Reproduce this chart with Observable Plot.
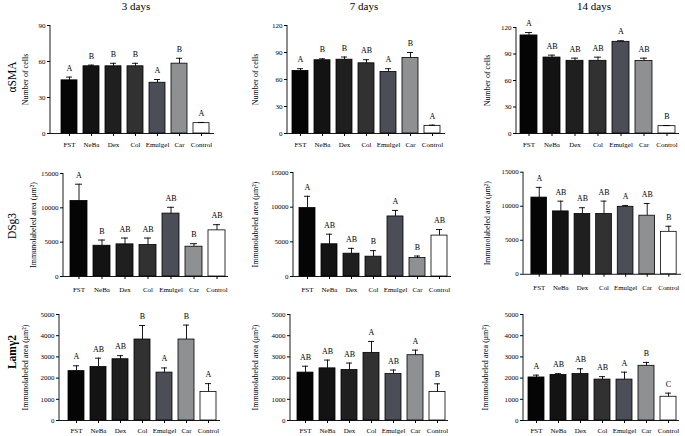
<!DOCTYPE html>
<html>
<head>
<meta charset="utf-8">
<script src="https://cdn.jsdelivr.net/npm/d3@7"></script>
<script src="https://cdn.jsdelivr.net/npm/@observablehq/plot@0.6"></script>
<style>
  html, body { margin: 0; padding: 0; background: #fff; }
  #wrap { position: relative; width: 685px; height: 436px; background: #fff; overflow: hidden; font-family: "Liberation Serif", "DejaVu Serif", serif; color: #000; }
  .lbl { position: absolute; white-space: nowrap; line-height: 1; }
  .rot { transform: translate(-50%, -50%) rotate(-90deg); }
  .pnl { position: absolute; }
  .pnl svg { display: block; }
</style>
</head>
<body>
<div id="wrap"></div>
<script>
// ---------- data ----------
const categories = ["FST", "NeBa", "Dex", "Col", "Emulgel", "Car", "Control"];
const dayTitles = ["3 days", "7 days", "14 days"];
const markerTitles = ["αSMA", "DSg3", "Lamγ2"];

// αSMA (number of cells)
const sma3Mean  = [44.3, 56, 56, 56, 42.3, 58.2, 8.6];
const sma3Sem   = [2.7, 1.0, 2.5, 2.5, 2.7, 4.5, 0.6];
const sma3Sig   = ["A", "B", "B", "B", "A", "B", "A"];
const sma7Mean  = [69.5, 81.4, 82, 78, 68.4, 84, 8.5];
const sma7Sem   = [2.5, 1.6, 3, 4, 3.6, 6, 0.8];
const sma7Sig   = ["A", "B", "B", "AB", "A", "B", "A"];
const sma14Mean = [111, 86, 82.3, 82.3, 103.8, 82, 8.3];
const sma14Sem  = [3.3, 2.7, 3, 4.1, 1.2, 3.3, 0.7];
const sma14Sig  = ["A", "AB", "AB", "AB", "A", "AB", "B"];

// DSg3 (immunolabeled area, µm²)
const dsg3Mean  = [11000, 4480, 4680, 4580, 9160, 4340, 6720];
const dsg3Sem   = [2440, 830, 920, 1020, 920, 440, 830];
const dsg3Sig   = ["A", "B", "AB", "AB", "AB", "B", "AB"];
const dsg7Mean  = [9870, 4650, 3290, 2860, 8660, 2660, 5900];
const dsg7Sem   = [1700, 1450, 770, 870, 870, 290, 870];
const dsg7Sig   = ["A", "AB", "AB", "B", "A", "B", "AB"];
const dsg14Mean = [11270, 9240, 8860, 8860, 9920, 8610, 6240];
const dsg14Sem  = [1500, 1500, 920, 1890, 190, 1790, 820];
const dsg14Sig  = ["A", "AB", "AB", "AB", "A", "AB", "B"];

// Lamγ2 (immunolabeled area, µm²)
const lam3Mean  = [2330, 2520, 2890, 3820, 2260, 3820, 1350];
const lam3Sem   = [250, 420, 170, 660, 220, 680, 390];
const lam3Sig   = ["A", "AB", "AB", "B", "A", "B", "A"];
const lam7Mean  = [2260, 2460, 2380, 3190, 2190, 3080, 1340];
const lam7Sem   = [300, 390, 330, 540, 190, 240, 390];
const lam7Sig   = ["AB", "AB", "AB", "A", "AB", "A", "B"];
const lam14Mean = [2030, 2150, 2190, 1930, 1930, 2580, 1120];
const lam14Sem  = [110, 60, 250, 140, 350, 160, 170];
const lam14Sig  = ["A", "AB", "AB", "AB", "A", "B", "C"];

// tick values
const smaTicks90  = [0, 30, 60, 90];
const smaTicks120 = [0, 30, 60, 90, 120];
const dsgTicks    = [0, 5000, 10000, 15000];
const lamTicks    = [0, 1000, 2000, 3000, 4000, 5000];

const cellsLabel = "Number of cells";
const areaLabel  = "Immunolabeled area (μm²)";

// ---------- styles ----------
const barColors = ["#050505", "#131313", "#1f1f1f", "#313131", "#4b4e56", "#8e9092", "#ffffff"];

// ---------- layout (pixel frames of each panel) ----------
const layout = [
  {axisX: 50,  L: 59,  R: 211, top: 25,  zero: 133, lab: 25, tp: 6},
  {axisX: 287, L: 290, R: 442, top: 25,  zero: 133, lab: 32, tp: 6},
  {axisX: 516, L: 519, R: 676, top: 27,  zero: 133, lab: 29, tp: 6},
  {axisX: 63,  L: 70,  R: 225, top: 173, zero: 276, lab: 30, tp: 8},
  {axisX: 293, L: 298, R: 448, top: 172, zero: 276, lab: 38, tp: 8},
  {axisX: 524, L: 529, R: 682, top: 172, zero: 276, lab: 37, tp: 8},
  {axisX: 59,  L: 66,  R: 217, top: 314, zero: 420, lab: 34, tp: 5},
  {axisX: 290, L: 297, R: 445, top: 314, zero: 420, lab: 35, tp: 5},
  {axisX: 523, L: 528, R: 676, top: 314, zero: 420, lab: 38, tp: 5}
];

const series = [
  [sma3Mean, sma3Sem, sma3Sig, smaTicks90, cellsLabel],
  [sma7Mean, sma7Sem, sma7Sig, smaTicks120, cellsLabel],
  [sma14Mean, sma14Sem, sma14Sig, smaTicks120, cellsLabel],
  [dsg3Mean, dsg3Sem, dsg3Sig, dsgTicks, areaLabel],
  [dsg7Mean, dsg7Sem, dsg7Sig, dsgTicks, areaLabel],
  [dsg14Mean, dsg14Sem, dsg14Sig, dsgTicks, areaLabel],
  [lam3Mean, lam3Sem, lam3Sig, lamTicks, areaLabel],
  [lam7Mean, lam7Sem, lam7Sig, lamTicks, areaLabel],
  [lam14Mean, lam14Sem, lam14Sig, lamTicks, areaLabel]
];

const wrap = document.getElementById("wrap");
const ML = 52, MR = 4, MT = 16, MB = 22, PAD = 0.28;

function yAxisLine(index, scales, values, dims) {
  const l = document.createElementNS("http://www.w3.org/2000/svg", "line");
  l.setAttribute("x1", dims.marginLeft);
  l.setAttribute("x2", dims.marginLeft);
  l.setAttribute("y1", dims.marginTop);
  l.setAttribute("y2", dims.height - dims.marginBottom);
  l.setAttribute("stroke", "black");
  l.setAttribute("stroke-width", 0.9);
  return l;
}

series.forEach(([means, sems, sigs, ticks, ylab], k) => {
  const f = layout[k];
  const data = categories.map((c, i) => ({cat: c, mean: means[i], top: means[i] + sems[i], sig: sigs[i]}));
  const frameRight = f.R + 3;
  const width = ML + (frameRight - f.axisX) + MR;
  const height = MT + (f.zero - f.top) + MB;
  const chart = Plot.plot({
    width, height,
    marginLeft: ML, marginRight: MR, marginTop: MT, marginBottom: MB,
    style: {fontFamily: '"Liberation Serif", "DejaVu Serif", serif', fontSize: "7px", background: "transparent", color: "black", overflow: "visible"},
    x: {domain: categories, paddingInner: PAD, paddingOuter: 0, insetLeft: f.L - f.axisX, insetRight: 3, label: null, tickSize: 3, tickPadding: f.tp},
    y: {domain: [0, ticks[ticks.length - 1]], ticks, tickFormat: "d", tickSize: 3, tickPadding: 2, label: null},
    color: {domain: categories, range: barColors},
    marks: [
      Plot.barY(data, {x: "cat", y: "mean", fill: "cat", stroke: "black", strokeWidth: 0.8}),
      Plot.ruleX(data, {x: "cat", y1: "mean", y2: "top", stroke: "black", strokeWidth: 0.9}),
      Plot.tickY(data, {x: "cat", y: "top", insetLeft: 5, insetRight: 5, stroke: "black", strokeWidth: 0.9}),
      Plot.text(data, {x: "cat", y: "top", text: "sig", dy: -9, fontSize: 8}),
      Plot.ruleY([0], {stroke: "black", strokeWidth: 0.9}),
      Plot.text([ylab], {text: d => d, frameAnchor: "left", textAnchor: "middle", lineAnchor: "middle", rotate: -90, dx: -f.lab, fontSize: 8}),
      yAxisLine
    ]
  });
  const div = document.createElement("div");
  div.className = "pnl";
  div.style.left = (f.axisX - ML) + "px";
  div.style.top = (f.top - MT) + "px";
  div.appendChild(chart);
  wrap.appendChild(div);
});

// column titles
const titleX = [136, 364, 594];
dayTitles.forEach((t, i) => {
  const d = document.createElement("div");
  d.className = "lbl";
  d.textContent = t;
  d.style.fontSize = "11px";
  d.style.left = titleX[i] + "px";
  d.style.top = "1px";
  d.style.transform = "translateX(-50%)";
  wrap.appendChild(d);
});

// row titles
const rowY = [77, 226, 352];
markerTitles.forEach((t, i) => {
  const d = document.createElement("div");
  d.className = "lbl rot";
  d.textContent = t;
  d.style.fontSize = "11.5px";
  d.style.left = "13px";
  d.style.top = rowY[i] + "px";
  if (i === 2) d.style.fontWeight = "bold";
  wrap.appendChild(d);
});
</script>
</body>
</html>
